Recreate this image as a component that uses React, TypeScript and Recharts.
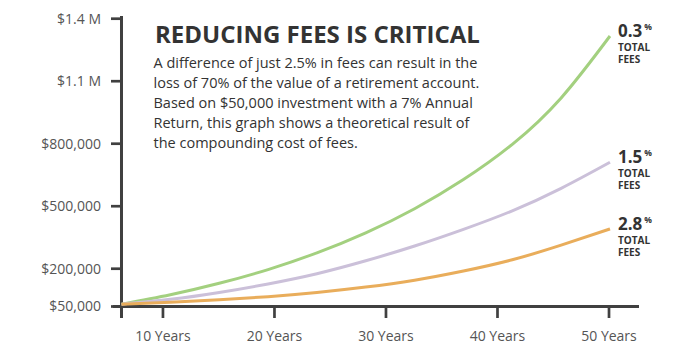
import { LineChart, Line, XAxis, YAxis, ReferenceLine, LabelList } from 'recharts'

// years since the $50,000 investment
const YEARS = [0, 5, 10, 15, 20, 25, 30, 35, 40, 45, 50]

// account value, dollars
const FEE_03 = [30000, 75000, 130000, 196000, 276000, 372000, 488000, 628000, 797000, 1020000, 1317000]
const FEE_15 = [30000, 53000, 86000, 127000, 176000, 238000, 309000, 389000, 478000, 586000, 711000]
const FEE_28 = [30000, 39000, 51000, 66000, 86000, 112000, 145000, 189000, 243000, 313000, 391000]

const Y_TICKS = [18700, 200000, 500000, 800000, 1100000, 1400000]
const Y_TICK_LABELS = ['$50,000', '$200,000', '$500,000', '$800,000', '$1.1 M', '$1.4 M']
const X_TICKS = [10, 20, 30, 40, 50]
const X_TICK_LABELS = ['10 Years', '20 Years', '30 Years', '40 Years', '50 Years']

const FEE_LABELS = ['0.3', '1.5', '2.8']

const TITLE = 'REDUCING FEES IS CRITICAL'
const DESCRIPTION = [
  'A difference of just 2.5% in fees can result in the',
  'loss of 70% of the value of a retirement account.',
  'Based on $50,000 investment with a 7% Annual',
  'Return, this graph shows a theoretical result of',
  'the compounding cost of fees.',
]

const data = YEARS.map((year, i) => ({
  year,
  fee03: FEE_03[i],
  fee15: FEE_15[i],
  fee28: FEE_28[i],
}))

const SERIES = [
  { key: 'fee03', color: '#a3d07f' },
  { key: 'fee15', color: '#cbc0d9' },
  { key: 'fee28', color: '#e9ad5b' },
]

const AXIS = '#404040'
const FONT = '"Open Sans", sans-serif'

// eslint-disable-next-line @typescript-eslint/no-explicit-any
function YTick({ x, y, index }: any) {
  return (
    <g>
      <line x1={x - 2} x2={x + 8} y1={y} y2={y} stroke={AXIS} strokeWidth={2.7} />
      <text x={x - 12} y={y + 5} textAnchor="end" fontSize={14} fill="#555" fontFamily={FONT}>
        {Y_TICK_LABELS[index]}
      </text>
    </g>
  )
}

// eslint-disable-next-line @typescript-eslint/no-explicit-any
function XTick({ x, y, index }: any) {
  return (
    <g>
      <line x1={x} x2={x} y1={y - 12} y2={y} stroke={AXIS} strokeWidth={2.7} />
      <text x={x} y={y + 23} textAnchor="middle" fontSize={14} fill="#555" fontFamily={FONT}>
        {X_TICK_LABELS[index]}
      </text>
    </g>
  )
}

function endLabel(pct: string) {
  // eslint-disable-next-line @typescript-eslint/no-explicit-any
  return ({ x, y, index }: any) => {
    if (index !== YEARS.length - 1) return null
    const tx = x + 8
    const ty = y + 1
    return (
      <g fontFamily={FONT} fontWeight={700} fill="#333">
        <text x={tx} y={ty} fontSize={17}>
          {pct}
          <tspan fontSize={8.5} dx={2} dy={-7}>%</tspan>
        </text>
        <text x={tx} y={ty + 14} fontSize={10}>TOTAL</text>
        <text x={tx} y={ty + 26} fontSize={10}>FEES</text>
      </g>
    )
  }
}

export default function App() {
  return (
    <div style={{ position: 'absolute', left: 0, top: 0, background: '#fff' }}>
      <LineChart width={690} height={348} data={data} margin={{ top: 16, right: 51, bottom: 0, left: 0 }}>
        <XAxis xAxisId="t" dataKey="year" type="number" domain={[-0.87, 52.97]} allowDataOverflow hide />
        <XAxis
          xAxisId="labels"
          dataKey="year"
          type="number"
          domain={[5.52, 52.69]}
          allowDataOverflow
          ticks={X_TICKS}
          interval={0}
          height={30}
          axisLine={false}
          tickLine={false}
          tickSize={0}
          tickMargin={0}
          tick={<XTick />}
        />
        <YAxis
          type="number"
          domain={[-36500, 1413000]}
          allowDataOverflow
          ticks={Y_TICKS}
          interval={0}
          width={113}
          axisLine={false}
          tickLine={false}
          tickSize={0}
          tickMargin={0}
          tick={<YTick />}
        />
        <ReferenceLine xAxisId="t" x={0} stroke={AXIS} strokeWidth={3} />
        <ReferenceLine xAxisId="t" y={Y_TICKS[0]} stroke={AXIS} strokeWidth={3} />
        {SERIES.map((s, i) => (
          <Line
            key={s.key}
            xAxisId="t"
            dataKey={s.key}
            type="natural"
            stroke={s.color}
            strokeWidth={3}
            dot={false}
            isAnimationActive={false}
          >
            <LabelList dataKey={s.key} content={endLabel(FEE_LABELS[i])} />
          </Line>
        ))}
        <text x={155} y={43} fontSize={24} fontWeight={700} fill="#333" fontFamily={FONT}>
          {TITLE}
        </text>
        {DESCRIPTION.map((line, i) => (
          <text key={i} x={153.5} y={68 + i * 20} fontSize={14.5} fill="#333" fontFamily={FONT}>
            {line}
          </text>
        ))}
      </LineChart>
    </div>
  )
}
